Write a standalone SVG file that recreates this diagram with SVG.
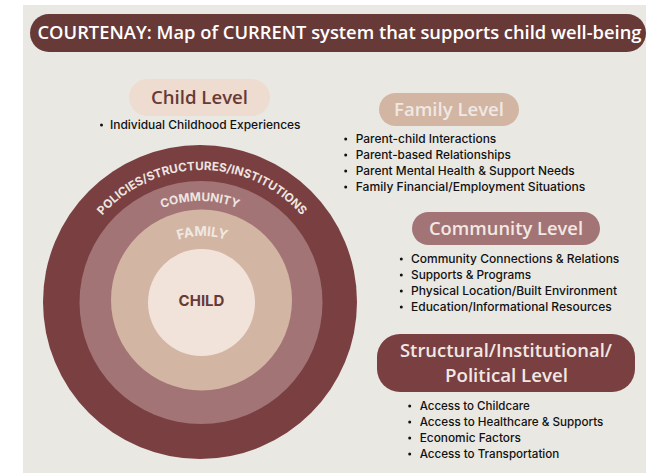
<svg xmlns="http://www.w3.org/2000/svg" width="646" height="473" viewBox="0 0 646 473">
<style>
.h{font-family:"Open Sans","Liberation Sans",sans-serif;font-weight:600;text-anchor:middle;font-size:18.5px}
.b{font-family:"Inter","Liberation Sans",sans-serif;font-size:11.8px;font-weight:500;fill:#111}
.c{font-family:"Inter","Liberation Sans",sans-serif;font-weight:700;text-anchor:middle}
.d{fill:#111}
</style>
<defs>
<path id="a1" d="M87.7,236 A132,132 0 0 1 316.3,236"/>
<path id="a2" d="M134.4,224.900 A102,102 0 0 1 265.600,224.900"/>
<path id="a3" d="M154.100,253.500 A75,75 0 0 1 250.500,253.500"/>
</defs>
<rect width="646" height="473" fill="#fff"/>
<rect x="23" y="5" width="623" height="468" fill="#e9e8e3"/>
<g id="title"><rect x="30" y="14" width="616" height="38" rx="19" fill="#673a38"/>
<text class="h" x="339.500" y="39" fill="#fff" textLength="604" lengthAdjust="spacingAndGlyphs">COURTENAY: Map of CURRENT system that supports child well-being</text></g>
<g id="circles">
<circle cx="200" cy="302" r="157" fill="#793f41"/>
<circle cx="201" cy="302.500" r="121.500" fill="#a37475"/>
<circle cx="201.500" cy="300" r="90.500" fill="#d3b5a3"/>
<circle cx="201.500" cy="302.500" r="53.500" fill="#f2e3da"/>
<text class="c" font-size="11.700" fill="#eee5e0"><textPath href="#a1" startOffset="50%">POLICIES/STRUCTURES/INSTITUTIONS</textPath></text>
<text class="c" font-size="11.800" fill="#eee5e0"><textPath href="#a2" startOffset="50%">COMMUNITY</textPath></text>
<text class="c" font-size="13.300" fill="#f0e8e2"><textPath href="#a3" startOffset="50%">FAMILY</textPath></text>
<text class="c" x="201.500" y="306" font-size="15" fill="#673a38">CHILD</text>
</g>
<g id="child-level"><rect x="129" y="79" width="141" height="37" rx="18.500" fill="#eedcd1"/>
<text class="h" x="199.500" y="104" fill="#673a38" textLength="97" lengthAdjust="spacingAndGlyphs">Child Level</text>
<circle class="d" cx="101.500" cy="125" r="1.500"/>
<text class="b" x="110" y="129" textLength="190.500" lengthAdjust="spacingAndGlyphs">Individual Childhood Experiences</text></g>
<g id="family-level"><rect x="379" y="93" width="140" height="33" rx="16.500" fill="#d3b5a3"/>
<text class="h" x="449" y="116" fill="#f0e8e2" textLength="110" lengthAdjust="spacingAndGlyphs">Family Level</text>
<g class="d"><circle cx="345.700" cy="139" r="1.500"/><circle cx="345.700" cy="155" r="1.500"/><circle cx="345.700" cy="171" r="1.500"/><circle cx="345.700" cy="187" r="1.500"/></g>
<text class="b" x="355.700" y="143" textLength="140.600" lengthAdjust="spacingAndGlyphs">Parent-child Interactions</text>
<text class="b" x="355.700" y="159" textLength="155.300" lengthAdjust="spacingAndGlyphs">Parent-based Relationships</text>
<text class="b" x="355.700" y="175" textLength="219" lengthAdjust="spacingAndGlyphs">Parent Mental Health &amp; Support Needs</text>
<text class="b" x="355.700" y="191" textLength="229.600" lengthAdjust="spacingAndGlyphs">Family Financial/Employment Situations</text></g>
<g id="community-level"><rect x="412" y="212" width="188" height="33" rx="16.500" fill="#a37475"/>
<text class="h" x="506" y="235" fill="#f2e8e3" textLength="154" lengthAdjust="spacingAndGlyphs">Community Level</text>
<g class="d"><circle cx="401.300" cy="259" r="1.500"/><circle cx="401.300" cy="275" r="1.500"/><circle cx="401.300" cy="291" r="1.500"/><circle cx="401.300" cy="307" r="1.500"/></g>
<text class="b" x="411" y="263" textLength="208.300" lengthAdjust="spacingAndGlyphs">Community Connections &amp; Relations</text>
<text class="b" x="411" y="279" textLength="120" lengthAdjust="spacingAndGlyphs">Supports &amp; Programs</text>
<text class="b" x="411" y="295" textLength="206" lengthAdjust="spacingAndGlyphs">Physical Location/Built Environment</text>
<text class="b" x="411" y="311" textLength="200.700" lengthAdjust="spacingAndGlyphs">Education/Informational Resources</text></g>
<g id="structural-level"><rect x="377" y="334" width="258" height="58" rx="23" fill="#793f41"/>
<text class="h" x="506" y="357" fill="#f2e8e3" textLength="212" lengthAdjust="spacingAndGlyphs">Structural/Institutional/</text>
<text class="h" x="506.500" y="382" fill="#f2e8e3" textLength="123" lengthAdjust="spacingAndGlyphs">Political Level</text>
<g class="d"><circle cx="409.700" cy="406" r="1.500"/><circle cx="409.700" cy="422" r="1.500"/><circle cx="409.700" cy="438" r="1.500"/><circle cx="409.700" cy="454" r="1.500"/></g>
<text class="b" x="419.700" y="410" textLength="110" lengthAdjust="spacingAndGlyphs">Access to Childcare</text>
<text class="b" x="419.700" y="426" textLength="183.600" lengthAdjust="spacingAndGlyphs">Access to Healthcare &amp; Supports</text>
<text class="b" x="419.700" y="442" textLength="101.300" lengthAdjust="spacingAndGlyphs">Economic Factors</text>
<text class="b" x="419.700" y="458" textLength="139.600" lengthAdjust="spacingAndGlyphs">Access to Transportation</text></g>
</svg>
